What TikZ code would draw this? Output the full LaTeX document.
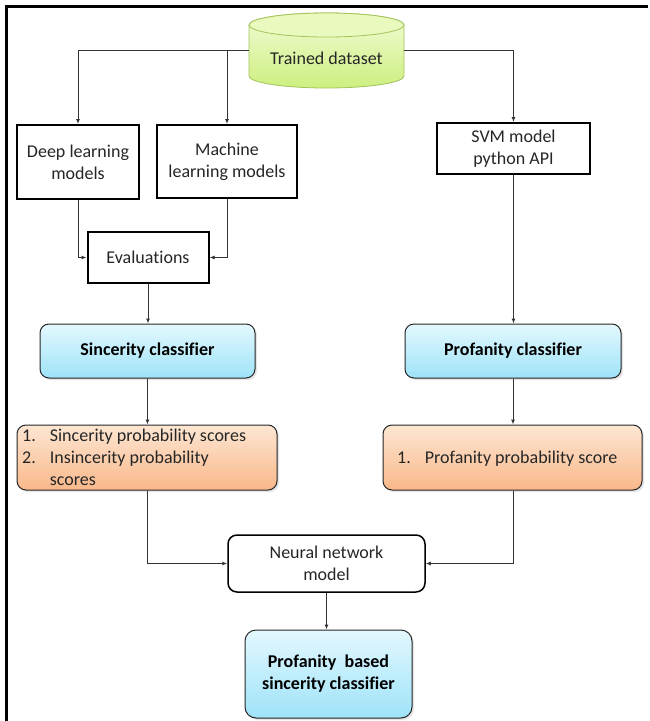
\documentclass[tikz,border=0pt]{standalone}
\usepackage{fontspec}
\setmainfont[Ligatures={NoCommon}]{Carlito}
\usetikzlibrary{arrows.meta,shadows}
\definecolor{bluetop}{HTML}{E3F8FE}
\definecolor{bluebot}{HTML}{9EE3F8}
\definecolor{orgtop}{HTML}{FDE6D2}
\definecolor{orgbot}{HTML}{F9B88A}
\definecolor{grntop}{HTML}{F2FCD6}
\definecolor{grnbot}{HTML}{CDEF80}
\definecolor{grnend}{HTML}{EAF9BE}
\definecolor{grnline}{HTML}{A3C45A}
\definecolor{txt}{HTML}{262626}
\begin{document}
\begin{tikzpicture}[x=1pt,y=-1pt,
  font=\fontsize{18}{22}\selectfont, text=txt,
  arr/.style={-{Latex[length=5pt,width=4pt]}, line width=1pt, draw=black!80},
  plainbox/.style={draw=black, line width=2pt, align=center, inner sep=0pt, fill=white},
  bluebox/.style={draw=black!85, line width=1pt, rounded corners=9pt, align=center, inner sep=0pt,
     top color=bluetop, bottom color=bluebot, font=\fontsize{18}{22}\selectfont\bfseries, text=black,
     drop shadow={opacity=0.2, shadow xshift=2pt, shadow yshift=-2pt}},
  orgbox/.style={draw=black!85, line width=1pt, rounded corners=9pt, inner sep=0pt,
     top color=orgtop, bottom color=orgbot,
     drop shadow={opacity=0.2, shadow xshift=2pt, shadow yshift=-2pt}}]
\useasboundingbox (0,0) rectangle (649,721);
\fill[white] (0,0) rectangle (649,721);
% frame
\draw[line width=3pt] (648,6) -- (6,6) -- (6,721);

% cylinder
\shade[top color=grntop, bottom color=grnbot, draw=grnline, line width=0.8pt]
  (249,25) -- (249,76) arc[start angle=180, end angle=360, x radius=77.5pt, y radius=12pt]
  -- (404,25) arc[start angle=0, end angle=180, x radius=77.5pt, y radius=12pt] -- cycle;
\filldraw[fill=grnend, draw=grnline, line width=0.8pt] (326.5,25) ellipse[x radius=77.5pt, y radius=12pt];
\node[minimum width=155pt, minimum height=75pt, inner sep=0pt] (ds) at (326.5,50.5) {};
\node at (326.5,58) {Trained dataset};

% boxes
\node[plainbox, minimum width=122pt, minimum height=74pt] (dl) at (78,162) {Deep learning\\models};
\node[plainbox, minimum width=140pt, minimum height=73pt] (ml) at (227,161.5) {Machine\\learning models};
\node[plainbox, minimum width=121pt, minimum height=51pt] (ev) at (148,257.5) {Evaluations};
\node[plainbox, minimum width=153pt, minimum height=51pt] (svm) at (513.5,148.5) {SVM model\\python API};

\node[bluebox, minimum width=215pt, minimum height=54pt] (sc) at (147.5,351) {Sincerity classifier};
\node[bluebox, minimum width=216pt, minimum height=54pt] (pc) at (513,351) {Profanity classifier};

\node[orgbox, minimum width=260pt, minimum height=65pt] (ol) at (147,457.5) {};
\node[anchor=north west, inner sep=0pt, align=left] at (22,426)
  {\begin{tabular}{@{}l@{\hspace{14pt}}l@{}}1. & Sincerity probability scores\\2. & Insincerity probability\\ & scores\end{tabular}};
\node[orgbox, minimum width=259pt, minimum height=65pt] (or) at (512.5,457.5) {};
\node[anchor=west, inner sep=0pt] at (397,459)
  {\begin{tabular}{@{}l@{\hspace{14pt}}l@{}}1. & Profanity probability score\end{tabular}};

\node[draw=black, line width=1.5pt, rounded corners=9pt, align=center, inner sep=0pt, fill=white,
  minimum width=197pt, minimum height=57pt] (nn) at (326.5,563.5) {Neural network\\model};
\node[bluebox, rounded corners=11pt, minimum width=167pt, minimum height=88pt] (fin) at (328.5,674)
  {Profanity\ \ based\\sincerity classifier};

% connectors
\draw[arr] (ds.west) -| (dl.north);
\draw[arr] (ds.west -| ml.north) -- (ml.north);
\draw[arr] (ds.east) -| (svm.north);
\draw[arr] (dl.south) |- (ev.west);
\draw[arr] (ml.south) |- (ev.east);
\draw[arr] (ev.south) -- (sc.north -| ev.south);
\draw[arr] (sc.south) -- (ol.north -| sc.south);
\draw[arr] (svm.south) -- (pc.north -| svm.south);
\draw[arr] (pc.south) -- (or.north -| pc.south);
\draw[arr] (ol.south -| sc.south) |- (nn.west);
\draw[arr] (or.south -| pc.south) |- (nn.east);
\draw[arr] (nn.south) -- (fin.north -| nn.south);
\end{tikzpicture}
\end{document}
